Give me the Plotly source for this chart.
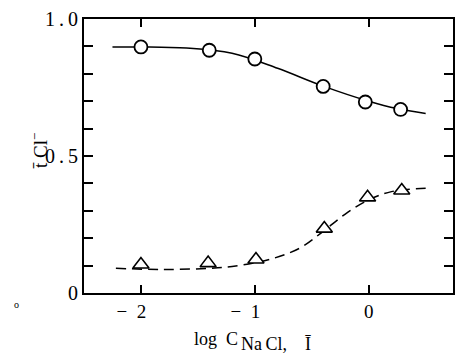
import plotly.graph_objects as go

# Measured points
circle_x = [-2.0, -1.4, -1.0, -0.4, -0.03, 0.28]
circle_y = [0.898, 0.886, 0.854, 0.754, 0.697, 0.670]
tri_x = [-2.0, -1.41, -0.99, -0.39, -0.01, 0.29]
tri_y = [0.104, 0.109, 0.122, 0.235, 0.349, 0.374]

# Fitted curves
solid_x = [-2.25, -2.0, -1.6, -1.2, -0.8, -0.4, 0.0, 0.25, 0.5]
solid_y = [0.898, 0.898, 0.894, 0.875, 0.82, 0.755, 0.70, 0.673, 0.655]
dash_x = [-2.22, -1.8, -1.4, -1.2, -0.85, -0.6, -0.4, -0.2, 0.0, 0.2, 0.5]
dash_y = [0.09, 0.086, 0.09, 0.097, 0.125, 0.165, 0.225, 0.29, 0.34, 0.37, 0.382]

x_tickvals = [-2, -1, 0]
x_ticktext = ["\u2212\u20022\u2002\u2002", "\u2212\u20021\u2002\u2002", "0"]
y_tickvals = [round(i * 0.1, 1) for i in range(11)]
y_ticktext = ["0", " ", " ", " ", " ", "0\u2009.\u20095", " ", " ", " ", " ", "1\u2009.\u20090"]

FONT = "Liberation Serif"

fig = go.Figure()
fig.add_trace(go.Scatter(x=solid_x, y=solid_y, mode="lines",
                         line=dict(color="black", width=1.5, shape="spline"),
                         showlegend=False, hoverinfo="skip"))
fig.add_trace(go.Scatter(x=dash_x, y=dash_y, mode="lines",
                         line=dict(color="black", width=1.5, shape="spline", dash="10px,6px"),
                         showlegend=False, hoverinfo="skip"))
fig.add_trace(go.Scatter(x=circle_x, y=circle_y, mode="markers",
                         marker=dict(symbol="circle", size=13, color="white",
                                     line=dict(color="black", width=1.8)),
                         showlegend=False))
fig.add_trace(go.Scatter(x=tri_x, y=tri_y, mode="markers",
                         marker=dict(symbol="triangle-up", size=14, color="white",
                                     line=dict(color="black", width=1.6)),
                         showlegend=False))

L, R, T, B = 84, 8, 15, 65
W, H = 463, 358
pw, ph = W - L - R, H - T - B

def px(x):
    return (x - L) / pw

def py(y):
    return (H - B - y) / ph

fig.update_layout(
    width=W, height=H,
    margin=dict(l=L, r=R, t=T, b=B),
    paper_bgcolor="white", plot_bgcolor="white",
    font=dict(family=FONT, color="black"),
    xaxis=dict(range=[-2.5, 0.74], tickvals=x_tickvals, ticktext=x_ticktext,
               ticks="inside", ticklen=8, tickwidth=1.5, tickcolor="black",
               showline=True, linewidth=2, linecolor="black", mirror="ticks",
               showgrid=False, zeroline=False, tickfont=dict(size=19, family=FONT)),
    yaxis=dict(range=[0, 1.0], tickvals=y_tickvals, ticktext=y_ticktext,
               ticks="inside", ticklen=9, tickwidth=1.5, tickcolor="black",
               showline=True, linewidth=2, linecolor="black", mirror="ticks",
               showgrid=False, zeroline=False, tickfont=dict(size=20, family=FONT)),
    annotations=[
        dict(text="t\u0304 Cl<sup>\u2212</sup>", xref="paper", yref="paper",
             x=px(25), y=py(148), textangle=-90, showarrow=False,
             font=dict(size=19, family=FONT)),
        dict(text="log\u2002C", xref="paper", yref="paper", x=px(193), y=py(340),
             xanchor="left", yanchor="middle", showarrow=False,
             font=dict(size=18, family=FONT)),
        dict(text="Na\u2009Cl,\u2003\u012a", xref="paper", yref="paper", x=px(240), y=py(345),
             xanchor="left", yanchor="middle", showarrow=False,
             font=dict(size=18, family=FONT)),
        dict(text="o", xref="paper", yref="paper", x=px(12), y=py(312),
             showarrow=False, font=dict(size=10, family=FONT)),
    ],
)

fig.write_html("out.html", config={"displayModeBar": False},
               post_script="document.body.style.margin='0';document.body.style.overflow='hidden';")
